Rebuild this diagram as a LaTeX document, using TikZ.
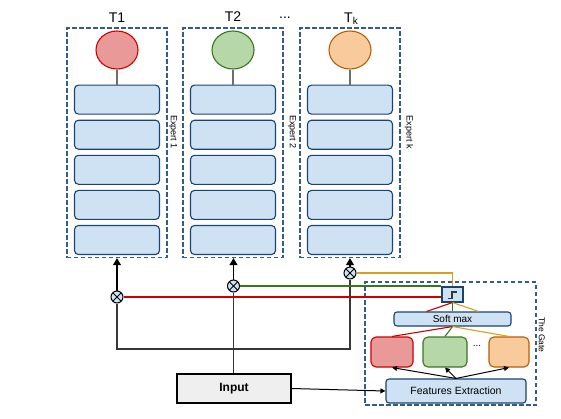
\documentclass[tikz,border=0pt]{standalone}
\usepackage{fontspec}
\setmainfont{Liberation Sans}
\usetikzlibrary{shapes, arrows.meta, positioning, fit, backgrounds}

\definecolor{boxfill}{RGB}{207,226,243}
\definecolor{boxblue}{RGB}{24,68,112}
\definecolor{groupblue}{RGB}{52,92,135}
\definecolor{linegray}{RGB}{55,55,55}
\definecolor{stemgray}{RGB}{110,110,110}
\definecolor{tred}{RGB}{204,0,0}
\definecolor{tredfill}{RGB}{234,153,153}
\definecolor{tgreen}{RGB}{56,118,29}
\definecolor{tgreenfill}{RGB}{182,215,168}
\definecolor{torange}{RGB}{180,95,6}
\definecolor{torangefill}{RGB}{249,203,156}
\definecolor{tgold}{RGB}{214,160,30}
\definecolor{inputfill}{RGB}{239,239,239}

\begin{document}
\begin{tikzpicture}[x=1pt, y=-1pt, node distance=5pt,
    layer/.style={rectangle, draw=boxblue, fill=boxfill, rounded corners=4pt, line width=1.1pt, minimum width=85pt, minimum height=29pt},
    task/.style={ellipse, draw, line width=1.1pt, minimum width=42pt, minimum height=38pt, inner sep=0pt},
    group/.style={rectangle, draw=groupblue, line width=1.2pt, dash pattern=on 4.5pt off 2.5pt, inner xsep=7pt, inner ysep=2.5pt},
    title/.style={font=\fontsize{14}{14}\selectfont},
    sidelabel/.style={rotate=-90, font=\fontsize{9}{9}\selectfont},
    mult/.style={circle, draw, fill=boxfill, line width=1pt, minimum size=12pt, inner sep=0pt,
        path picture={\draw[line width=1pt] (path picture bounding box.north west) -- (path picture bounding box.south east)
            (path picture bounding box.north east) -- (path picture bounding box.south west);}},
    gatebox/.style={rectangle, draw=boxblue, fill=boxfill, rounded corners=3pt, line width=1.1pt, inner sep=0pt, font=\fontsize{10}{10}\selectfont},
    expbox/.style={rectangle, rounded corners=5pt, line width=1.1pt, minimum height=30pt},
    stepbox/.style={rectangle, draw=boxblue, fill=boxfill, line width=1.1pt, minimum width=21pt, minimum height=15pt,
        path picture={\draw[line width=1.2pt, linegray] ([shift={(-5pt,-4pt)}]path picture bounding box.center) -- ++(4.5pt,0pt) -- ++(0pt,6.5pt) -- ++(4.5pt,0pt);}},
    stem/.style={draw=stemgray, line width=1.1pt},
    line/.style={draw=linegray, line width=1.1pt},
    arrow/.style={line, draw=black, -{Triangle[width=8pt,length=7pt]}},
    small arrow/.style={draw=black, line width=1pt, -{Triangle[width=5pt,length=5pt]}},
    redline/.style={draw=tred, line width=1.1pt},
    greenline/.style={draw=tgreen, line width=1.1pt},
    goldline/.style={draw=tgold, line width=1.1pt}
]
    \useasboundingbox (0,0) rectangle (561,418);

    % Task heads
    \node [task, draw=tred, fill=tredfill] (t1) at (117,50) {};
    \node [task, draw=tgreen, fill=tgreenfill] (t2) at (233,50) {};
    \node [task, draw=torange, fill=torangefill] (tk) at (350,50) {};
    \node [title] at (117,18) {T1};
    \node [title] at (233,17) {T2};
    \node [title] at (285,18) {...};
    \node [title] at (351,19) {T\raisebox{-2pt}{\fontsize{10}{10}\selectfont k}};

    % Expert 1
    \node [layer, below=15pt of t1] (l11) {};
    \node [layer, below=of l11] (l12) {};
    \node [layer, below=of l12] (l13) {};
    \node [layer, below=of l13] (l14) {};
    \node [layer, below=of l14] (l15) {};
    \node [group, fit=(t1) (l15)] (exp1) {};
    \node [sidelabel] at (173,132) {Expert 1};

    % Expert 2
    \node [layer, below=15pt of t2] (l21) {};
    \node [layer, below=of l21] (l22) {};
    \node [layer, below=of l22] (l23) {};
    \node [layer, below=of l23] (l24) {};
    \node [layer, below=of l24] (l25) {};
    \node [group, fit=(t2) (l25)] (exp2) {};
    \node [sidelabel] at (292,132) {Expert 2};

    % Expert k
    \node [layer, below=15pt of tk] (lk1) {};
    \node [layer, below=of lk1] (lk2) {};
    \node [layer, below=of lk2] (lk3) {};
    \node [layer, below=of lk3] (lk4) {};
    \node [layer, below=of lk4] (lk5) {};
    \node [group, fit=(tk) (lk5)] (expk) {};
    \node [sidelabel] at (409,132) {Expert k};

    \path [stem] (t1) -- (l11);
    \path [stem] (t2) -- (l21);
    \path [stem] (tk) -- (lk1);

    % Weighting
    \node [mult] (m1) at (117,297) {};
    \node [mult] (m2) at (233.5,286) {};
    \node [mult] (mk) at (350,273) {};

    % Input
    \node [rectangle, draw, fill=inputfill, line width=1.1pt, minimum width=114pt, minimum height=29pt,
        font=\bfseries\fontsize{12}{12}\selectfont] (inp) at (234,388.5) {Input};
    \coordinate (split) at (233.5,349);

    % The Gate
    \node [group, minimum width=171pt, minimum height=123pt, inner sep=0pt] (gate) at (450.5,343.5) {};
    \node [sidelabel, font=\fontsize{8.5}{8.5}\selectfont] at (542,335) {The Gate};
    \node [stepbox] (step) at (452.5,294.5) {};
    \node [gatebox, minimum width=117pt, minimum height=14pt] (soft) at (452.5,319) {Soft max};
    \node [expbox, draw=tred, fill=tredfill, minimum width=42pt] (gred) at (392,352) {};
    \node [expbox, draw=tgreen, fill=tgreenfill, minimum width=44pt] (ggreen) at (445,352) {};
    \node [expbox, draw=torange, fill=torangefill, minimum width=40pt] (gorange) at (509,352) {};
    \node at (477,346) {...};
    \node [gatebox, minimum width=140pt, minimum height=24pt, font=\fontsize{10.5}{10.5}\selectfont] (fe) at (456,391) {Features Extraction};

    % Connections
    \path [line] (inp.north -| m2) -- (m2);
    \path [line] (m1) |- (split) -| (mk);
    \path [arrow] (m1) -- (m1 |- exp1.south);
    \path [arrow] (m2) -- (m2 |- exp2.south);
    \path [arrow] (mk) -- (mk |- expk.south);
    \path [small arrow] (inp.east) -- (fe.west);

    \path [redline] (m1) -- (m1 -| step.west);
    \path [greenline] (m2) -- (m2 -| step.west);
    \path [goldline] (mk) -| (step.north);

    \path [redline] (step.south) -- ([xshift=-26pt]soft.north);
    \path [greenline] (step) -- (soft);
    \path [goldline] (step.south) -- ([xshift=26pt]soft.north);

    \path [redline] (soft.south) -- (gred.north);
    \path [greenline] (soft.south) -- (ggreen.north);
    \path [goldline] (soft.south) -- (gorange.north);

    \path [small arrow] (fe.north) -- (gred.south);
    \path [small arrow] (fe.north) -- (ggreen.south);
    \path [small arrow] (fe.north) -- (gorange.south);
\end{tikzpicture}
\end{document}
